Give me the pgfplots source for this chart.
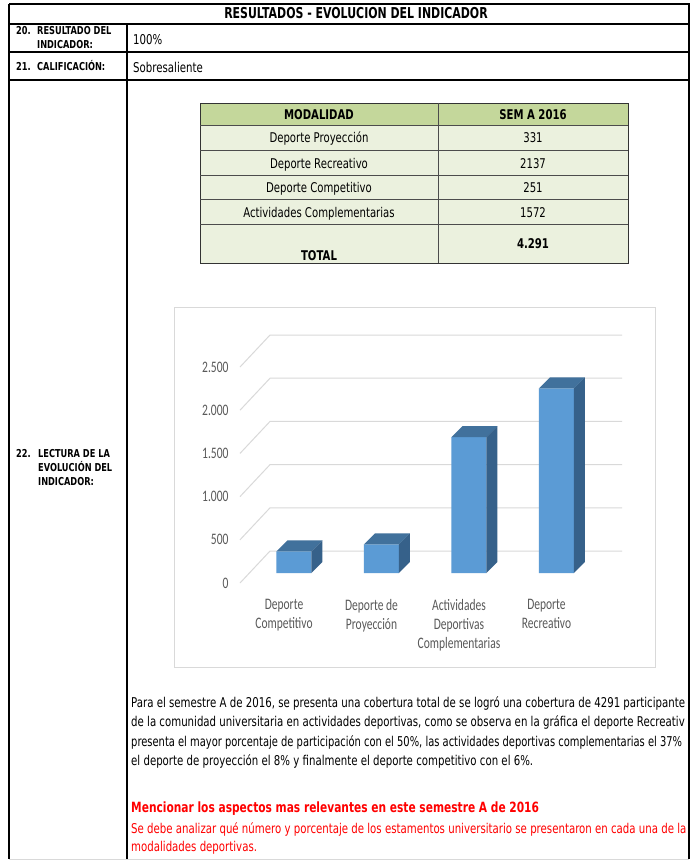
\documentclass[border=0pt]{standalone}
\usepackage{fontspec}
\setmainfont{DejaVu Sans}[FakeStretch=0.755]
\newfontfamily\titlefont{DejaVu Sans}[FakeStretch=0.73]
\newfontfamily\narrowfont{DejaVu Sans}[FakeStretch=0.735]
\newfontfamily\chartfont{Carlito}[FakeStretch=0.72]
\usepackage{pgfplots}
\pgfplotsset{compat=1.18}

\definecolor{hdrgreen}{HTML}{C4D79B}
\definecolor{rowgreen}{HTML}{EBF1DE}
\definecolor{barfront}{HTML}{5B9BD5}
\definecolor{bartop}{HTML}{41719C}
\definecolor{barside}{HTML}{36618A}
\definecolor{gridgray}{HTML}{D9D9D9}
\definecolor{labgray}{HTML}{595959}
\definecolor{redtxt}{HTML}{FF0000}

\newcommand\fsmall{\bfseries\fontsize{10.9}{12}\selectfont}
\newcommand\fbody{\fontsize{13.5}{16}\selectfont}
\newcommand\ftab{\fontsize{13.4}{15}\selectfont}
\newcommand\fchart{\chartfont\fontsize{16}{18.7}\selectfont}

\begin{document}
\begin{tikzpicture}[x=1pt,y=1pt]
\path[use as bounding box] (0,0) rectangle (690,-861);
\fill[white] (0,0) rectangle (690,-861);

% form frame
\draw[line width=1.3pt] (9,-4) -- (689,-4) -- (689,-859);
\draw[line width=1.3pt] (9,-4) -- (9,-859);
\draw[line width=1.1pt] (9,-24) -- (689,-24);
\draw[line width=1.1pt] (9,-52) -- (689,-52);
\draw[line width=1.1pt] (9,-80) -- (689,-80);
\draw[line width=1.1pt] (127,-24) -- (127,-859);
\draw[gridgray, line width=1pt] (9,-859) -- (689,-859);

\node[anchor=base, font=\titlefont\bfseries\fontsize{15}{17}\selectfont, inner sep=0] at (356,-19) {RESULTADOS - EVOLUCION DEL INDICADOR};
\node[anchor=base west, font=\fsmall, inner sep=0] at (16,-35) {20.};
\node[anchor=base west, font=\fsmall, inner sep=0] at (37,-35) {RESULTADO DEL};
\node[anchor=base west, font=\fsmall, inner sep=0] at (37,-49) {INDICADOR:};
\node[anchor=base west, font=\fbody, inner sep=0] at (133,-45) {100\%};
\node[anchor=base west, font=\fsmall, inner sep=0] at (16,-71) {21.};
\node[anchor=base west, font=\fsmall, inner sep=0] at (37,-71) {CALIFICACIÓN:};
\node[anchor=base west, font=\fbody, inner sep=0] at (133,-73) {Sobresaliente};
\node[anchor=base west, font=\fsmall, inner sep=0] at (16,-457) {22.};
\node[anchor=base west, font=\fsmall, inner sep=0] at (38,-457) {LECTURA DE LA};
\node[anchor=base west, font=\fsmall, inner sep=0] at (38,-471) {EVOLUCIÓN DEL};
\node[anchor=base west, font=\fsmall, inner sep=0] at (38,-485) {INDICADOR:};

% data table
\fill[hdrgreen] (200,-103) rectangle (628,-125);
\fill[rowgreen] (200,-125) rectangle (628,-263);
\draw[line width=0.8pt, black!80] (200,-103) rectangle (628,-263);
\foreach \yy in {125,150,175,199,224} \draw[line width=0.7pt, black!70] (200,-\yy) -- (628,-\yy);
\draw[line width=0.7pt, black!70] (438,-103) -- (438,-263);
\node[anchor=base, font=\bfseries\ftab] at (319,-120) {MODALIDAD};
\node[anchor=base, font=\bfseries\ftab] at (533,-120) {SEM A 2016};
\node[anchor=base, font=\ftab] at (319,-143) {Deporte Proyección};
\node[anchor=base, font=\ftab] at (533,-143) {331};
\node[anchor=base, font=\ftab] at (319,-168) {Deporte Recreativo};
\node[anchor=base, font=\ftab] at (533,-168) {2137};
\node[anchor=base, font=\ftab] at (319,-193) {Deporte Competitivo};
\node[anchor=base, font=\ftab] at (533,-193) {251};
\node[anchor=base, font=\ftab] at (319,-217) {Actividades Complementarias};
\node[anchor=base, font=\ftab] at (533,-217) {1572};
\node[anchor=base, font=\bfseries\ftab] at (319,-260) {TOTAL};
\node[anchor=base, font=\bfseries\ftab] at (533,-248) {4.291};

% chart frame
\draw[gridgray, line width=1pt, fill=white] (174,-307) rectangle (655,-667);

\begin{axis}[
  at={(240pt,-583pt)}, anchor=south west,
  scale only axis, width=382pt, height=250pt,
  xmin=-0.617, xmax=3.749, ymin=-115.7, ymax=2778,
  clip=false,
  axis line style={draw=none},
  major tick length=0pt,
  xtick={-0.114,0.886,1.886,2.886},
  xticklabels={{Deporte\\Competitivo},{Deporte de\\Proyección},{Actividades\\Deportivas\\Complementarias},{Deporte\\Recreativo}},
  xticklabel style={align=center, font=\fchart, text=labgray, yshift=-13pt},
  ytick={-115.7,384.3,884.3,1384.3,1884.3,2384.3},
  yticklabels={0,500,1.000,1.500,2.000,2.500},
  yticklabel style={font=\fchart, text=labgray, xshift=-8pt},
]
% back wall grid and floor diagonals
\addplot[gridgray, line width=1pt] coordinates {(-0.617,-115.7) (-0.274,254.6) (3.749,254.6)};
\addplot[gridgray, line width=1pt] coordinates {(-0.617,384.3) (-0.274,754.6) (3.749,754.6)};
\addplot[gridgray, line width=1pt] coordinates {(-0.617,884.3) (-0.274,1254.6) (3.749,1254.6)};
\addplot[gridgray, line width=1pt] coordinates {(-0.617,1384.3) (-0.274,1754.6) (3.749,1754.6)};
\addplot[gridgray, line width=1pt] coordinates {(-0.617,1884.3) (-0.274,2254.6) (3.749,2254.6)};
\addplot[gridgray, line width=1pt] coordinates {(-0.617,2384.3) (-0.274,2754.6) (3.749,2754.6)};
% bar fronts
\addplot[ybar, bar width=0.4, bar shift=0pt, fill=barfront, draw=none] coordinates {(0,251) (1,331) (2,1572) (3,2137)};
% bar tops
\addplot[fill=bartop, draw=none] coordinates {(-0.2,251) (0.2,251) (0.3257,378.3) (-0.0743,378.3)};
\addplot[fill=bartop, draw=none] coordinates {(0.8,331) (1.2,331) (1.3257,458.3) (0.9257,458.3)};
\addplot[fill=bartop, draw=none] coordinates {(1.8,1572) (2.2,1572) (2.3257,1699.3) (1.9257,1699.3)};
\addplot[fill=bartop, draw=none] coordinates {(2.8,2137) (3.2,2137) (3.3257,2264.3) (2.9257,2264.3)};
% bar sides
\addplot[fill=barside, draw=none] coordinates {(0.2,0) (0.3257,127.3) (0.3257,378.3) (0.2,251)};
\addplot[fill=barside, draw=none] coordinates {(1.2,0) (1.3257,127.3) (1.3257,458.3) (1.2,331)};
\addplot[fill=barside, draw=none] coordinates {(2.2,0) (2.3257,127.3) (2.3257,1699.3) (2.2,1572)};
\addplot[fill=barside, draw=none] coordinates {(3.2,0) (3.3257,127.3) (3.3257,2264.3) (3.2,2137)};
\end{axis}

% reading text (lines end where the reference cuts them off)
\node[anchor=base west, font=\fbody, inner sep=0] at (131,-707) {Para el semestre A de 2016, se presenta una cobertura total de se logró una cobertura de 4291 participante};
\node[anchor=base west, font=\fbody, inner sep=0] at (131,-726) {de la comunidad universitaria en actividades deportivas, como se observa en la gráfica el deporte Recreativ};
\node[anchor=base west, font=\narrowfont\fbody, inner sep=0] at (131,-746) {presenta el mayor porcentaje de participación con el 50\%, las actividades deportivas complementarias el 37\%};
\node[anchor=base west, font=\fbody, inner sep=0] at (131,-765) {el deporte de proyección el 8\% y finalmente el deporte competitivo con el 6\%.};
\node[anchor=base west, font=\bfseries\fontsize{14.1}{16}\selectfont, text=redtxt, inner sep=0] at (131,-812) {Mencionar los aspectos mas relevantes en este semestre A de 2016};
\node[anchor=base west, font=\fbody, text=redtxt, inner sep=0] at (131,-833) {Se debe analizar qué número y porcentaje de los estamentos universitario se presentaron en cada una de la};
\node[anchor=base west, font=\fbody, text=redtxt, inner sep=0] at (131,-851) {modalidades deportivas.};
\end{tikzpicture}
\end{document}
